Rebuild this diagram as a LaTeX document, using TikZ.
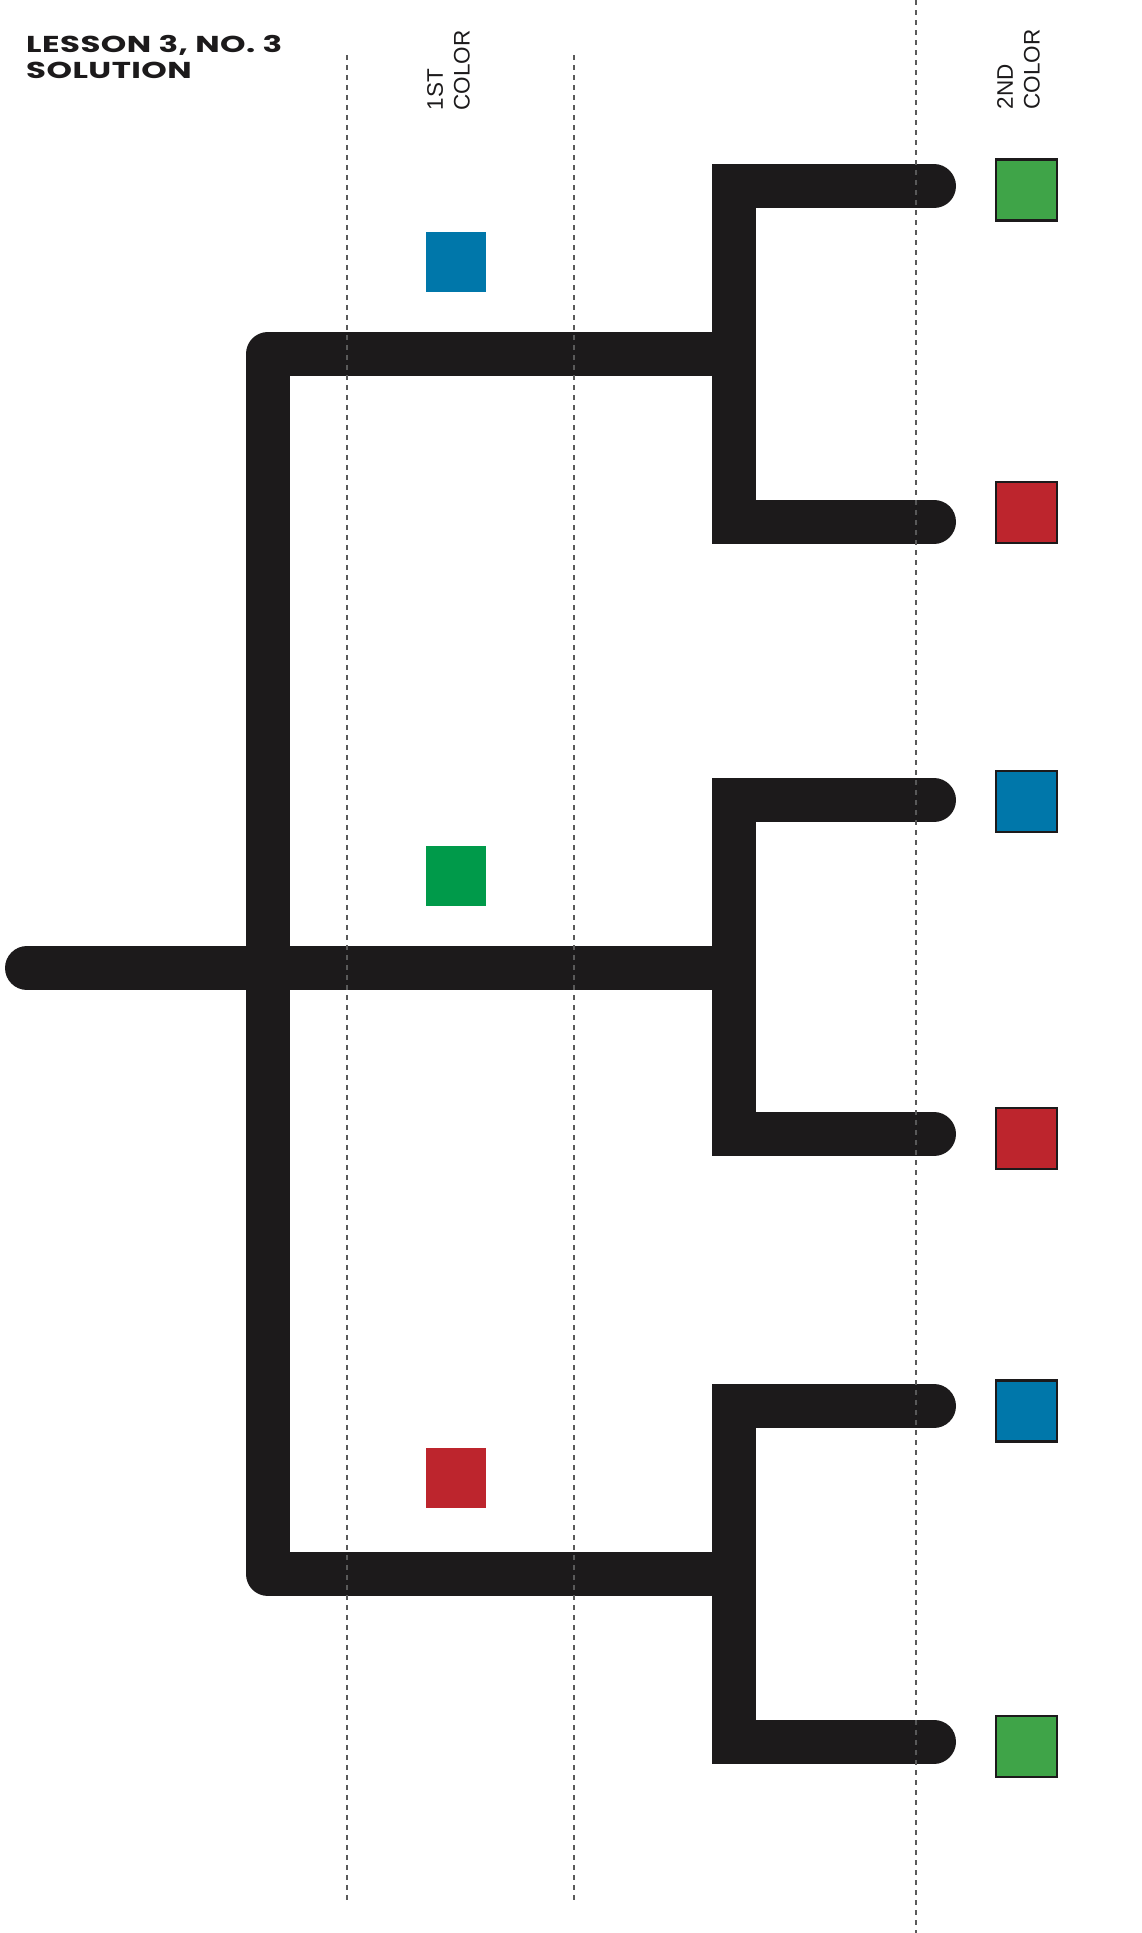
\documentclass[tikz,border=0pt]{standalone}
\usepackage{fontspec}
\newfontfamily\titlefont{Poppins}[FakeStretch=1.41, LetterSpace=2]
\newfontfamily\labelfont{Liberation Sans}
\definecolor{ink}{HTML}{1C1A1B}
\definecolor{guidegray}{HTML}{5A5A5A}
\definecolor{pickblue}{HTML}{0077AA}
\definecolor{pickgreen}{HTML}{009A4A}
\definecolor{pickred}{HTML}{BD252D}
\definecolor{chipgreen}{HTML}{3FA448}
\definecolor{chipred}{HTML}{BD252D}
\definecolor{chipblue}{HTML}{0077AA}
\tikzset{
  branch/.style={draw=ink, line width=44pt, line cap=round},
  guide/.style={draw=guidegray, line width=2pt, dash pattern=on 5.3pt off 4.7pt},
  chip/.style={minimum size=61pt, inner sep=0pt, draw=ink, line width=2.2pt},
  pick/.style={minimum size=60pt, inner sep=0pt},
  heading/.style={font={\titlefont\bfseries\fontsize{23}{26}\selectfont}, align=left, inner sep=0pt, text=ink},
  colhead/.style={rotate=90, anchor=south west, align=left, inner sep=0pt,
    font={\labelfont\fontsize{22.5}{26.7}\selectfont}, text=ink}
}
\begin{document}
\begin{tikzpicture}[x=1pt, y=-1pt]
\useasboundingbox (0,0) rectangle (1141,1933);
% Headings
\node[heading, anchor=south west] (title) at (26,79.3) {LESSON 3, NO. 3\\SOLUTION};
\node[colhead] (first) at (470,110.5) {1ST\\COLOR};
\node[colhead] (second) at (1040,109.5) {2ND\\COLOR};
% Tree points
\coordinate (root) at (27,968);
\coordinate (trunk) at (267.7,968);
\coordinate (fork1) at (733.7,354);
\coordinate (fork2) at (733.7,968);
\coordinate (fork3) at (733.7,1574);
\coordinate (leaf1) at (934,186.3);
\coordinate (leaf2) at (934,521.5);
\coordinate (leaf3) at (934,800.3);
\coordinate (leaf4) at (934,1134.3);
\coordinate (leaf5) at (934,1406);
\coordinate (leaf6) at (934,1741.5);
% Left-hand bracket
\draw[branch, line join=round] (fork1) -- (fork1 -| trunk) -- (fork3 -| trunk) -- (fork3);
\draw[branch] (root) -- (fork2);
% Right-hand brackets
\draw[branch, line join=miter] (leaf1) -- (leaf1 -| fork1) -- (leaf2 -| fork1) -- (leaf2);
\draw[branch, line join=miter] (leaf3) -- (leaf3 -| fork2) -- (leaf4 -| fork2) -- (leaf4);
\draw[branch, line join=miter] (leaf5) -- (leaf5 -| fork3) -- (leaf6 -| fork3) -- (leaf6);
% Guide lines
\coordinate (g1top) at (346.5,55);
\coordinate (g1bot) at (346.5,1904);
\coordinate (g2top) at (573.8,55);
\coordinate (g2bot) at (573.8,1904);
\coordinate (g3top) at (916.2,0);
\coordinate (g3bot) at (916.2,1933);
\draw[guide] (g1top) -- (g1bot);
\draw[guide] (g2top) -- (g2bot);
\draw[guide] (g3top) -- (g3bot);
% First colours
\node[pick, fill=pickblue] (p1) at (456,261.7) {};
\node[pick, fill=pickgreen] (p2) at (455.5,875.5) {};
\node[pick, fill=pickred] (p3) at (455.5,1478) {};
% Second colours
\node[chip, fill=chipgreen] (c1) at (1026.5,190) {};
\node[chip, fill=chipred] (c2) at (1026.5,512.3) {};
\node[chip, fill=chipblue] (c3) at (1026.5,801.5) {};
\node[chip, fill=chipred] (c4) at (1026.5,1138.6) {};
\node[chip, fill=chipblue] (c5) at (1026.5,1411) {};
\node[chip, fill=chipgreen] (c6) at (1026.5,1746.5) {};
\end{tikzpicture}
\end{document}
